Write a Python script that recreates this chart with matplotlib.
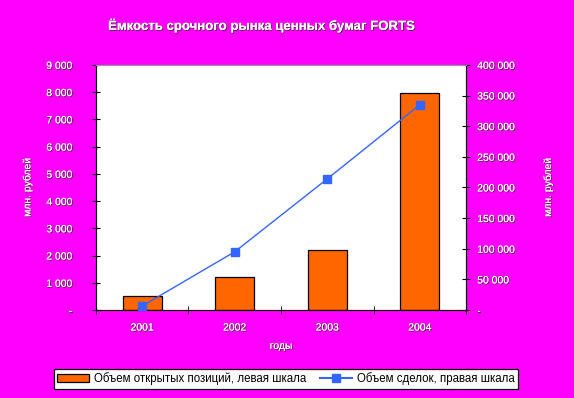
import matplotlib
matplotlib.use("Agg")
import matplotlib.pyplot as plt
import matplotlib.patheffects as pe
from matplotlib.ticker import FuncFormatter, MultipleLocator
from matplotlib.patches import Patch
from matplotlib.lines import Line2D
import numpy as np

# data
years = ['2001', '2002', '2003', '2004']
open_positions = [510, 1210, 2200, 7950]          # left scale, mln rub
trade_volume = [6500, 95000, 214000, 335000]      # right scale, mln rub

title = 'Ёмкость срочного рынка ценных бумаг FORTS'
bar_label = 'Объем открытых позиций, левая шкала'
line_label = 'Объем сделок, правая шкала'

plt.rcParams['font.family'] = ['Liberation Sans', 'DejaVu Sans']
MAGENTA = '#ff00ff'
shadow = [pe.withSimplePatchShadow(offset=(0.6, -0.6), shadow_rgbFace='#333333', alpha=1.0), pe.Normal()]


def thousands(v, pos):
    if v == 0:
        return '-'
    return f'{int(v):,}'.replace(',', ' ')


fig = plt.figure(figsize=(5.74, 3.98), dpi=100, facecolor=MAGENTA)
ax = fig.add_axes([0.167, 0.221, 0.645, 0.616])
ax.set_facecolor('white')
x = np.arange(len(years))

ax.bar(x, open_positions, width=0.42, color='#ff6600', edgecolor='black', linewidth=0.9, zorder=2)
ax.set_xlim(-0.5, 3.5)
ax.set_ylim(0, 9000)
ax.yaxis.set_major_locator(MultipleLocator(1000))
ax.yaxis.set_major_formatter(FuncFormatter(thousands))
ax.set_xticks(x)
ax.set_xticklabels(years)
ax.set_xticks(np.arange(-0.5, 4.0, 1.0), minor=True)
ax.tick_params(axis='x', which='major', length=0, pad=9)
ax.tick_params(axis='x', which='minor', direction='inout', length=6, color='black')
ax.tick_params(axis='y', direction='inout', length=6, pad=14)

ax2 = ax.twinx()
ax2.plot(x, trade_volume, color='#3366ff', linewidth=1.0, marker='s', markersize=6, zorder=3)
ax2.set_ylim(0, 400000)
ax2.yaxis.set_major_locator(MultipleLocator(50000))
ax2.yaxis.set_major_formatter(FuncFormatter(thousands))
ax2.tick_params(axis='y', direction='inout', length=6, pad=5)

for a in (ax, ax2):
    a.spines['top'].set_color('#999999')
    for s in ('left', 'right', 'bottom'):
        a.spines[s].set_color('black')
    for lbl in a.get_yticklabels() + a.get_xticklabels():
        lbl.set_color('white')
        lbl.set_fontsize(7.5)
        lbl.set_path_effects(shadow)

ax.set_xlabel('годы', color='white', fontsize=7.5, labelpad=6, path_effects=shadow)
ax.set_ylabel('млн. рублей', color='white', fontsize=7.5, labelpad=10, path_effects=shadow)
ax2.set_ylabel('млн. рублей', color='white', fontsize=7.5, labelpad=20, rotation=90, path_effects=shadow)

fig.text(0.455, 0.935, title, ha='center', va='center', color='white', fontsize=9.5,
         fontweight='bold', path_effects=shadow)

handles = [Patch(facecolor='#ff6600', edgecolor='black', linewidth=0.9),
           Line2D([0], [0], color='#3366ff', marker='s', markersize=6, linewidth=1.5)]
leg = fig.legend(handles, [bar_label, line_label], loc='center', bbox_to_anchor=(0.498, 0.048),
                 ncol=2, fontsize=8.3, frameon=True, fancybox=False, borderpad=0.3,
                 handlelength=2.8, columnspacing=1.2, handletextpad=0.4)
leg.get_frame().set_edgecolor('black')
leg.get_frame().set_linewidth(0.9)
leg.get_frame().set_facecolor('white')
leg.get_frame().set_alpha(1)

fig.savefig('out.png', dpi=100, facecolor=MAGENTA)
